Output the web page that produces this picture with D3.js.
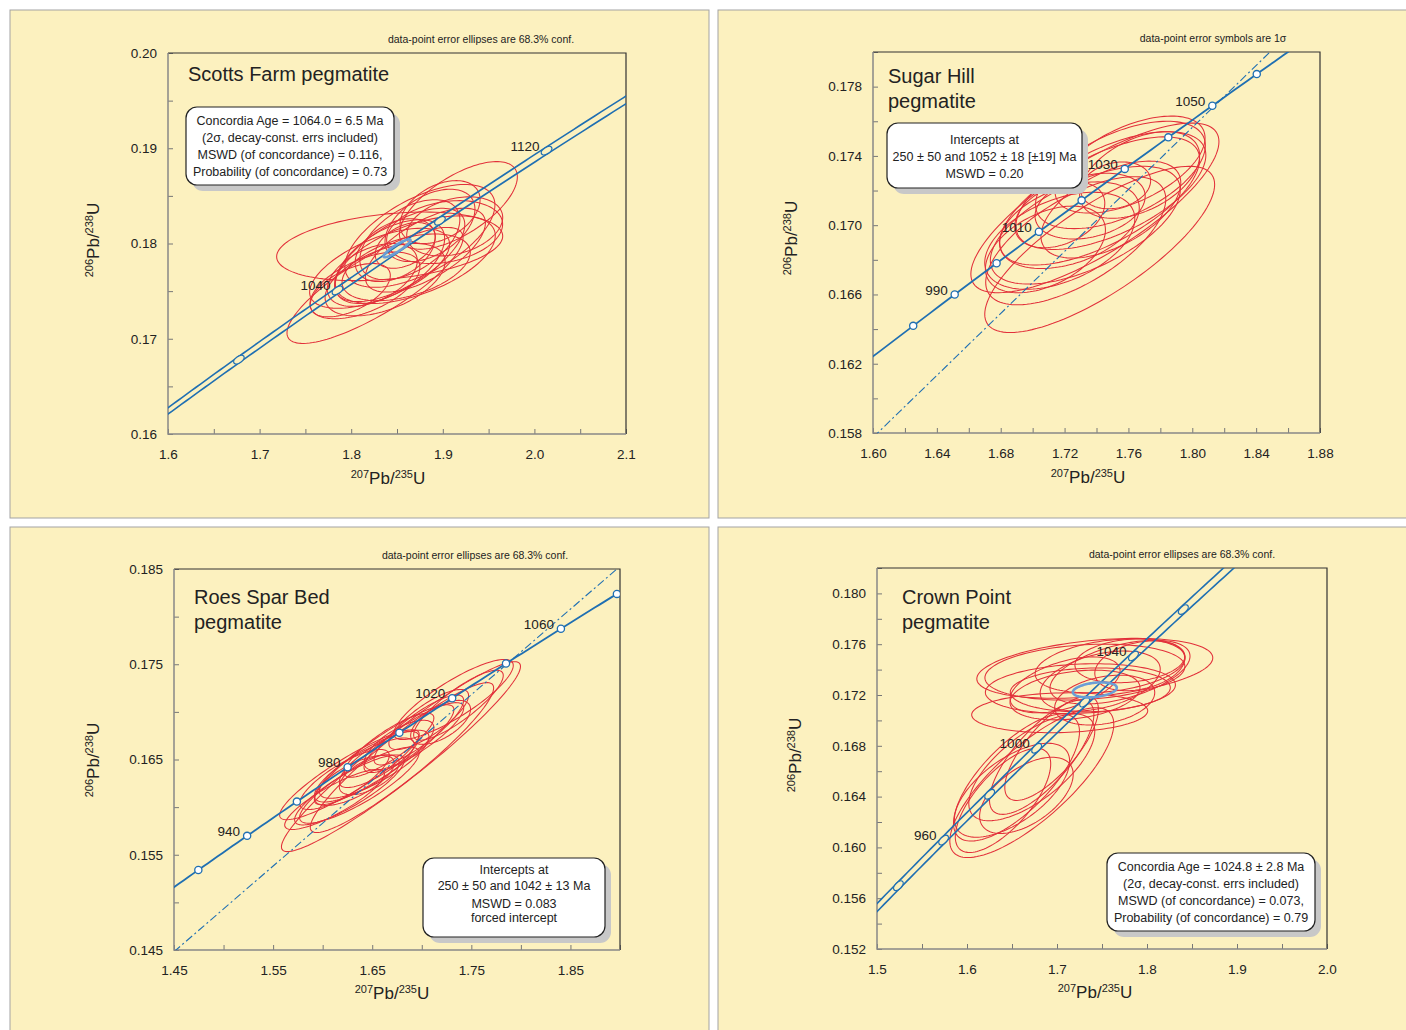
<!DOCTYPE html>
<html>
<head>
<meta charset="utf-8">
<script src="https://cdn.jsdelivr.net/npm/d3@7"></script>
<style>
body { margin: 0; background: #fff; font-family: "Liberation Sans", Arial, sans-serif; }
</style>
</head>
<body>
<svg id="chart" width="1406" height="1030"></svg>
<script>
// U decay constants (1/yr)
var L238 = 1.55125e-10, L235 = 9.8485e-10;

// error ellipses: [207/235, 206/238, half-width x, half-height y, rho]
var scottsEllipses = [
  [1.842, 0.1797, 0.1234, 0.00360, 0.30],
  [1.826, 0.1756, 0.0961, 0.00609, 0.82],
  [1.917, 0.1840, 0.0644, 0.00460, 0.65],
  [1.902, 0.1812, 0.0633, 0.00330, 0.25],
  [1.875, 0.1808, 0.0819, 0.00540, 0.60],
  [1.853, 0.1788, 0.0710, 0.00490, 0.65],
  [1.842, 0.1781, 0.0600, 0.00440, 0.55],
  [1.864, 0.1804, 0.0546, 0.00420, 0.50],
  [1.831, 0.1774, 0.0764, 0.00420, 0.60],
  [1.886, 0.1819, 0.0491, 0.00380, 0.45],
  [1.848, 0.1793, 0.0437, 0.00330, 0.40],
  [1.815, 0.1756, 0.0600, 0.00350, 0.55],
  [1.897, 0.1833, 0.0437, 0.00330, 0.40],
  [1.870, 0.1783, 0.0873, 0.00460, 0.55],
  [1.823, 0.1767, 0.0491, 0.00330, 0.45],
  [1.913, 0.1818, 0.0524, 0.00310, 0.30],
  [1.859, 0.1798, 0.0328, 0.00240, 0.40],
  [1.837, 0.1762, 0.0655, 0.00380, 0.50],
  [1.881, 0.1793, 0.0655, 0.00440, 0.65],
  [1.799, 0.1751, 0.0437, 0.00280, 0.55],
  [1.860, 0.1775, 0.0700, 0.00350, 0.45]
];
var scottsAgeEllipse = [1.850, 0.1795, 0.0147, 0.00094, 0.9];

var sugarEllipses = [
  [1.739, 0.1710, 0.0777, 0.00490, 0.78],
  [1.742, 0.1686, 0.0720, 0.00480, 0.78],
  [1.742, 0.1714, 0.0626, 0.00370, 0.65],
  [1.749, 0.1720, 0.0595, 0.00340, 0.60],
  [1.717, 0.1691, 0.0470, 0.00280, 0.45],
  [1.755, 0.1729, 0.0532, 0.00310, 0.55],
  [1.723, 0.1700, 0.0438, 0.00250, 0.40],
  [1.749, 0.1709, 0.0438, 0.00280, 0.55],
  [1.733, 0.1700, 0.0595, 0.00340, 0.60],
  [1.752, 0.1723, 0.0219, 0.00135, 0.20],
  [1.708, 0.1686, 0.0376, 0.00250, 0.45],
  [1.736, 0.1711, 0.0345, 0.00190, 0.30],
  [1.761, 0.1735, 0.0470, 0.00280, 0.55],
  [1.727, 0.1691, 0.0564, 0.00370, 0.65],
  [1.767, 0.1729, 0.0376, 0.00250, 0.45],
  [1.717, 0.1706, 0.0282, 0.00190, 0.35]
];

var roesEllipses = [
  [1.679, 0.1653, 0.1206, 0.00997, 0.95],
  [1.680, 0.1652, 0.0925, 0.00787, 0.93],
  [1.627, 0.1618, 0.0553, 0.00367, 0.85],
  [1.622, 0.1629, 0.0452, 0.00315, 0.80],
  [1.642, 0.1639, 0.0503, 0.00336, 0.80],
  [1.657, 0.1650, 0.0402, 0.00294, 0.80],
  [1.612, 0.1608, 0.0503, 0.00315, 0.85],
  [1.637, 0.1623, 0.0603, 0.00399, 0.85],
  [1.697, 0.1681, 0.0452, 0.00367, 0.85],
  [1.707, 0.1692, 0.0402, 0.00315, 0.80],
  [1.719, 0.1689, 0.0302, 0.00231, 0.60],
  [1.692, 0.1673, 0.0503, 0.00367, 0.85],
  [1.667, 0.1665, 0.0452, 0.00336, 0.85],
  [1.647, 0.1634, 0.0302, 0.00210, 0.60],
  [1.677, 0.1665, 0.0352, 0.00262, 0.70],
  [1.732, 0.1713, 0.0603, 0.00420, 0.85],
  [1.737, 0.1707, 0.0452, 0.00367, 0.85],
  [1.627, 0.1634, 0.0704, 0.00472, 0.90],
  [1.662, 0.1655, 0.0704, 0.00525, 0.90],
  [1.632, 0.1628, 0.0402, 0.00262, 0.70],
  [1.652, 0.1645, 0.0553, 0.00357, 0.80]
];

var crownEllipses = [
  [1.742, 0.1741, 0.1311, 0.00236, 0.35],
  [1.703, 0.1706, 0.0978, 0.00157, 0.10],
  [1.731, 0.1738, 0.1111, 0.00220, 0.20],
  [1.759, 0.1743, 0.0833, 0.00212, 0.30],
  [1.781, 0.1747, 0.0611, 0.00173, 0.20],
  [1.737, 0.1724, 0.0889, 0.00173, 0.10],
  [1.748, 0.1731, 0.0667, 0.00236, 0.40],
  [1.770, 0.1738, 0.0778, 0.00251, 0.50],
  [1.720, 0.1720, 0.0722, 0.00196, 0.30],
  [1.792, 0.1743, 0.0500, 0.00196, 0.30],
  [1.709, 0.1728, 0.0611, 0.00220, 0.50],
  [1.753, 0.1716, 0.0556, 0.00196, 0.30],
  [1.726, 0.1725, 0.1056, 0.00196, 0.15],
  [1.672, 0.1651, 0.0911, 0.00590, 0.78],
  [1.655, 0.1655, 0.0700, 0.00500, 0.72],
  [1.640, 0.1637, 0.0530, 0.00410, 0.70],
  [1.672, 0.1663, 0.0700, 0.00420, 0.68],
  [1.650, 0.1645, 0.0640, 0.00370, 0.62],
  [1.683, 0.1671, 0.0580, 0.00450, 0.75],
  [1.666, 0.1641, 0.0520, 0.00300, 0.55],
  [1.694, 0.1678, 0.0520, 0.00410, 0.75]
];
var crownAgeEllipse = [1.742, 0.1724, 0.0244, 0.00059, 0.3];

// axis tick labels
var scottsXTicks = [1.6, 1.7, 1.8, 1.9, 2.0, 2.1];
var scottsYTicks = [0.16, 0.17, 0.18, 0.19, 0.20];
var sugarXTicks = [1.60, 1.64, 1.68, 1.72, 1.76, 1.80, 1.84, 1.88];
var sugarYTicks = [0.158, 0.162, 0.166, 0.170, 0.174, 0.178];
var roesXTicks = [1.45, 1.55, 1.65, 1.75, 1.85];
var roesYTicks = [0.145, 0.155, 0.165, 0.175, 0.185];
var crownXTicks = [1.5, 1.6, 1.7, 1.8, 1.9, 2.0];
var crownYTicks = [0.152, 0.156, 0.160, 0.164, 0.168, 0.172, 0.176, 0.180];

// concordia age marks (Ma)
var scottsMarks = [1000, 1040, 1080, 1120], scottsMarkLabels = [1040, 1120];
var sugarMarks = [980, 990, 1000, 1010, 1020, 1030, 1040, 1050, 1060], sugarMarkLabels = [990, 1010, 1030, 1050];
var roesMarks = [920, 940, 960, 980, 1000, 1020, 1040, 1060, 1080], roesMarkLabels = [940, 980, 1020, 1060];
var crownMarks = [940, 960, 980, 1000, 1020, 1040, 1060], crownMarkLabels = [960, 1000, 1040];

var sugarIntercepts = [250, 1052];
var roesIntercepts = [250, 1042];

var BG = "#fcf1bf", RED = "#e2303a", BLUE = "#1f6fb2", LBLUE = "#6b9ed6";

var svg = d3.select("#chart");

function conc(t, f) {
  // concordia point for age t (Ma); f scales lambda235 (decay-const error band)
  return [Math.exp(L235 * f * t * 1e6) - 1, Math.exp(L238 * t * 1e6) - 1];
}

function ellipsePts(e) {
  var r = Math.sqrt(1 - e[4] * e[4]);
  return d3.range(0, 2 * Math.PI, Math.PI / 60).map(function(a) {
    return [e[0] + e[2] * Math.cos(a), e[1] + e[3] * (e[4] * Math.cos(a) + r * Math.sin(a))];
  });
}

function allTicks(dom, major, step) {
  var n = Math.round((dom[1] - dom[0]) / step);
  return d3.range(n + 1).map(function(i) { return +(dom[0] + i * step).toFixed(6); });
}

function isMajor(v, major) {
  return major.some(function(m) { return Math.abs(m - v) < 1e-7; });
}

function drawPanel(p) {
  var g = svg.append("g");
  g.append("rect")
    .attr("x", p.bg[0]).attr("y", p.bg[1]).attr("width", p.bg[2]).attr("height", p.bg[3])
    .attr("fill", BG).attr("stroke", "#a3a3a3");

  var x = d3.scaleLinear().domain(p.xDom).range([p.l, p.r]);
  var y = d3.scaleLinear().domain(p.yDom).range([p.b, p.t]);

  svg.append("clipPath").attr("id", "clip" + p.id).append("rect")
    .attr("x", p.l).attr("y", p.t).attr("width", p.r - p.l).attr("height", p.b - p.t);

  // axes, ticks pointing inward
  var xa = g.append("g").attr("transform", "translate(0," + p.b + ")")
    .call(d3.axisBottom(x).tickValues(allTicks(p.xDom, p.xTicks, p.xStep))
      .tickSizeInner(-5).tickSizeOuter(0).tickPadding(15)
      .tickFormat(function(d) { return isMajor(d, p.xTicks) ? d3.format(p.xFmt)(d) : ""; }));
  var ya = g.append("g").attr("transform", "translate(" + p.l + ",0)")
    .call(d3.axisLeft(y).tickValues(allTicks(p.yDom, p.yTicks, p.yStep))
      .tickSizeInner(-5).tickSizeOuter(0).tickPadding(11)
      .tickFormat(function(d) { return isMajor(d, p.yTicks) ? d3.format(p.yFmt)(d) : ""; }));
  [xa, ya].forEach(function(a) {
    a.select(".domain").remove();
    a.selectAll("line").attr("stroke", "#777");
    a.selectAll("text").attr("font-size", 13.5).attr("fill", "#222")
      .attr("font-family", "Liberation Sans, Arial, sans-serif");
  });

  // frame
  g.append("path").attr("d", "M" + p.l + "," + p.t + "H" + p.r + "V" + p.b)
    .attr("fill", "none").attr("stroke", "#333").attr("stroke-width", 1.2);
  g.append("path").attr("d", "M" + p.l + "," + p.t + "V" + p.b + "H" + p.r)
    .attr("fill", "none").attr("stroke", "#888").attr("stroke-width", 1.5);

  var plot = g.append("g").attr("clip-path", "url(#clip" + p.id + ")");
  var line = d3.line().x(function(d) { return x(d[0]); }).y(function(d) { return y(d[1]); });
  var closed = d3.line().x(function(d) { return x(d[0]); }).y(function(d) { return y(d[1]); })
    .curve(d3.curveLinearClosed);

  // data-point ellipses
  plot.selectAll(".ell").data(p.ellipses).enter().append("path")
    .attr("d", function(e) { return closed(ellipsePts(e)); })
    .attr("fill", "none").attr("stroke", RED).attr("stroke-width", 1.05);

  // discordia
  if (p.intercepts) {
    var a = conc(p.intercepts[0], 1), b = conc(p.intercepts[1], 1);
    var s = (b[1] - a[1]) / (b[0] - a[0]);
    plot.append("path")
      .attr("d", line(p.xDom.map(function(v) { return [v, b[1] + (v - b[0]) * s]; })))
      .attr("fill", "none").attr("stroke", BLUE).attr("stroke-width", 1.1)
      .attr("stroke-dasharray", "8,3,2,3");
  }

  // concordia curve
  var ages = d3.range(800, 1250, 2);
  var factors = p.band ? [1 - 0.0019, 1 + 0.0019] : [1];
  factors.forEach(function(f) {
    plot.append("path").attr("d", line(ages.map(function(t) { return conc(t, f); })))
      .attr("fill", "none").attr("stroke", BLUE).attr("stroke-width", p.band ? 1.6 : 1.8);
  });

  // age marks
  p.marks.forEach(function(t) {
    var c = conc(t, 1), px = x(c[0]), py = y(c[1]);
    if (p.band) {
      var c2 = conc(t + 1, 1);
      var ang = Math.atan2(y(c2[1]) - py, x(c2[0]) - px) * 180 / Math.PI;
      plot.append("ellipse").attr("cx", px).attr("cy", py).attr("rx", 6).attr("ry", 3.2)
        .attr("transform", "rotate(" + ang + "," + px + "," + py + ")")
        .attr("fill", BG).attr("stroke", BLUE).attr("stroke-width", 1.3);
    } else {
      plot.append("circle").attr("cx", px).attr("cy", py).attr("r", 3.6)
        .attr("fill", "#fff").attr("stroke", BLUE).attr("stroke-width", 1.3);
    }
    if (p.markLabels.indexOf(t) >= 0) {
      g.append("text").attr("x", px - 7).attr("y", py).attr("text-anchor", "end")
        .attr("font-size", 13.5).attr("fill", "#222").text(t);
    }
  });

  // concordia age ellipse
  if (p.ageEllipse) {
    plot.append("path").attr("d", closed(ellipsePts(p.ageEllipse)))
      .attr("fill", "none").attr("stroke", LBLUE).attr("stroke-width", 2.6);
  }

  // title
  p.title.forEach(function(tx, i) {
    g.append("text").attr("x", p.titlePos[0]).attr("y", p.titlePos[1] + i * 25)
      .attr("font-size", 20).attr("fill", "#222").text(tx);
  });

  // note above the plot
  g.append("text").attr("x", p.notePos[0]).attr("y", p.notePos[1]).attr("text-anchor", "middle")
    .attr("font-size", 10.5).attr("fill", "#222").text(p.note);

  // info box with shadow
  var bx = p.box;
  g.append("rect").attr("x", bx[0] + 6).attr("y", bx[1] + 6).attr("width", bx[2]).attr("height", bx[3])
    .attr("rx", 11).attr("fill", "#c8c8c8");
  g.append("rect").attr("x", bx[0]).attr("y", bx[1]).attr("width", bx[2]).attr("height", bx[3])
    .attr("rx", 11).attr("fill", "#fff").attr("stroke", "#222").attr("stroke-width", 1.2);
  p.boxLines.forEach(function(tx, i) {
    g.append("text").attr("x", bx[0] + bx[2] / 2).attr("y", p.boxY[i]).attr("text-anchor", "middle")
      .attr("font-size", 12.5).attr("fill", "#222").text(tx);
  });

  // axis titles
  var xl = g.append("text").attr("x", p.xLab[0]).attr("y", p.xLab[1]).attr("text-anchor", "middle")
    .attr("fill", "#222").attr("font-size", 17);
  xl.append("tspan").attr("font-size", 11).attr("dy", -6).text("207");
  xl.append("tspan").attr("dy", 6).text("Pb/");
  xl.append("tspan").attr("font-size", 11).attr("dy", -6).text("235");
  xl.append("tspan").attr("dy", 6).text("U");

  var yl = g.append("text").attr("transform", "translate(" + p.yLab[0] + "," + p.yLab[1] + ") rotate(-90)")
    .attr("text-anchor", "middle").attr("fill", "#222").attr("font-size", 17);
  yl.append("tspan").attr("font-size", 11).attr("dy", -6).text("206");
  yl.append("tspan").attr("dy", 6).text("Pb/");
  yl.append("tspan").attr("font-size", 11).attr("dy", -6).text("238");
  yl.append("tspan").attr("dy", 6).text("U");
}

var panels = [
  { id: 1, bg: [10, 10, 699, 508], l: 168, t: 53, r: 626, b: 434,
    xDom: [1.6, 2.1], yDom: [0.16, 0.20], xTicks: scottsXTicks, yTicks: scottsYTicks,
    xStep: 0.05, yStep: 0.005, xFmt: ".1f", yFmt: ".2f",
    ellipses: scottsEllipses, ageEllipse: scottsAgeEllipse, band: true,
    marks: scottsMarks, markLabels: scottsMarkLabels,
    title: ["Scotts Farm pegmatite"], titlePos: [188, 81],
    note: "data-point error ellipses are 68.3% conf.", notePos: [481, 43],
    box: [186, 107, 208, 78], boxY: [124.5, 141.5, 158.5, 175.5],
    boxLines: ["Concordia Age = 1064.0 = 6.5 Ma", "(2\u03c3, decay-const. errs included)",
               "MSWD (of concordance) = 0.116,", "Probability (of concordance) = 0.73"],
    xLab: [388, 484], yLab: [99, 240] },
  { id: 2, bg: [718, 10, 700, 508], l: 873, t: 52, r: 1320, b: 433,
    xDom: [1.60, 1.88], yDom: [0.158, 0.180], xTicks: sugarXTicks, yTicks: sugarYTicks,
    xStep: 0.02, yStep: 0.002, xFmt: ".2f", yFmt: ".3f",
    ellipses: sugarEllipses, band: false, intercepts: sugarIntercepts,
    marks: sugarMarks, markLabels: sugarMarkLabels,
    title: ["Sugar Hill", "pegmatite"], titlePos: [888, 83],
    note: "data-point error symbols are 1\u03c3", notePos: [1213, 42],
    box: [887, 123, 195, 65], boxY: [144, 161, 178],
    boxLines: ["Intercepts at", "250 \u00b1 50 and 1052 \u00b1 18 [\u00b119] Ma", "MSWD = 0.20"],
    xLab: [1088, 483], yLab: [797, 238] },
  { id: 3, bg: [10, 527, 699, 510], l: 174, t: 569, r: 620, b: 950,
    xDom: [1.45, 1.90], yDom: [0.145, 0.185], xTicks: roesXTicks, yTicks: roesYTicks,
    xStep: 0.05, yStep: 0.005, xFmt: ".2f", yFmt: ".3f",
    ellipses: roesEllipses, band: false, intercepts: roesIntercepts,
    marks: roesMarks, markLabels: roesMarkLabels,
    title: ["Roes Spar Bed", "pegmatite"], titlePos: [194, 604],
    note: "data-point error ellipses are 68.3% conf.", notePos: [475, 559],
    box: [423, 858, 182, 79], boxY: [874, 890, 908, 922],
    boxLines: ["Intercepts at", "250 \u00b1 50 and 1042 \u00b1 13 Ma", "MSWD = 0.083", "forced intercept"],
    xLab: [392, 999], yLab: [99, 760] },
  { id: 4, bg: [718, 527, 700, 510], l: 877, t: 568, r: 1327, b: 949,
    xDom: [1.5, 2.0], yDom: [0.152, 0.182], xTicks: crownXTicks, yTicks: crownYTicks,
    xStep: 0.05, yStep: 0.002, xFmt: ".1f", yFmt: ".3f",
    ellipses: crownEllipses, ageEllipse: crownAgeEllipse, band: true,
    marks: crownMarks, markLabels: crownMarkLabels,
    title: ["Crown Point", "pegmatite"], titlePos: [902, 604],
    note: "data-point error ellipses are 68.3% conf.", notePos: [1182, 558],
    box: [1107, 853, 208, 78], boxY: [871, 888, 905, 922],
    boxLines: ["Concordia Age = 1024.8 \u00b1 2.8 Ma", "(2\u03c3, decay-const. errs included)",
               "MSWD (of concordance) = 0.073,", "Probability (of concordance) = 0.79"],
    xLab: [1095, 998], yLab: [801, 755] }
];

panels.forEach(drawPanel);
</script>
</body>
</html>
